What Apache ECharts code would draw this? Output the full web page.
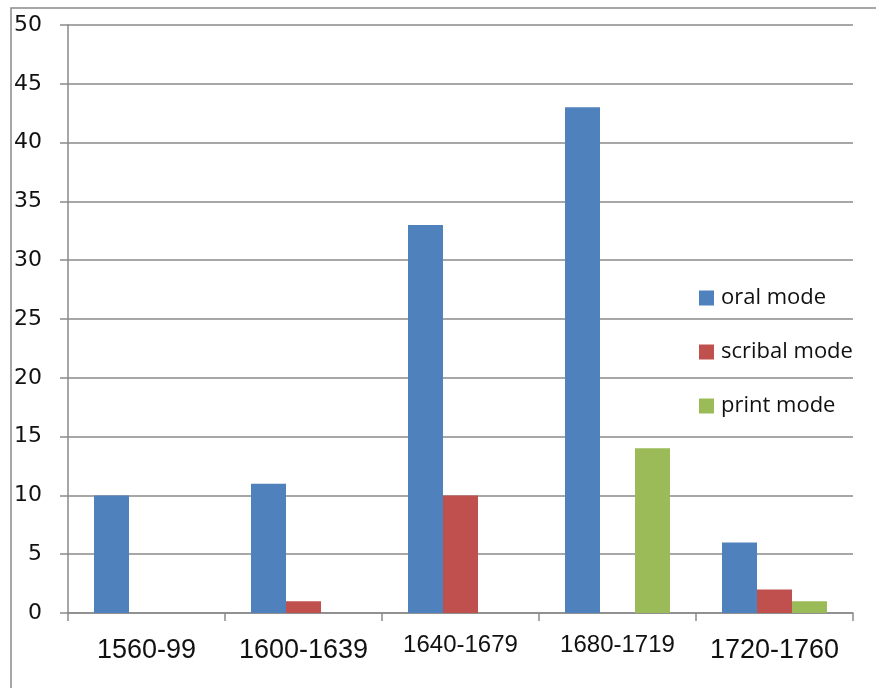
<!DOCTYPE html>
<html><head><meta charset="utf-8">
<script src="https://cdn.jsdelivr.net/npm/echarts@6/dist/echarts.min.js"></script>
<style>html,body{margin:0;padding:0;background:#fff}#c{width:876px;height:688px}</style>
</head><body><div id="c"></div>
<script>
const categories = ['1560-99', '1600-1639', '1640-1679', '1680-1719', '1720-1760'];
const labelSizes = ['big', 'big', 'small', 'small', 'big'];
const oralMode = [10, 11, 33, 43, 6];
const scribalMode = [0, 1, 10, 0, 2];
const printMode = [0, 0, 0, 14, 1];
const seriesNames = ['oral mode', 'scribal mode', 'print mode'];
const yTicks = { min: 0, max: 50, interval: 5 };

const chart = echarts.init(document.getElementById('c'));
const gray = '#8a8a8a';
chart.setOption({
  animation: false,
  backgroundColor: '#fff',
  graphic: [{
    type: 'rect', shape: { x: 11, y: 8, width: 900, height: 700 },
    style: { fill: 'none', stroke: gray, lineWidth: 1.5 }, silent: true
  }],
  grid: { left: 68, right: 23, top: 25, bottom: 75, containLabel: false },
  legend: {
    orient: 'vertical', left: 694, top: 282, itemWidth: 15, itemHeight: 15,
    itemGap: 32, icon: 'rect',
    textStyle: { fontFamily: 'Open Sans', fontSize: 22, color: '#111', padding: [0, 0, 0, 2] }
  },
  xAxis: {
    type: 'category', data: categories,
    axisLine: { lineStyle: { color: gray, width: 1.5 } },
    axisTick: { show: true, length: 8, alignWithLabel: false, lineStyle: { color: gray, width: 1.5 } },
    axisLabel: {
      margin: 20, interval: 0,
      formatter: (v, i) => '{' + labelSizes[i] + '|' + v + '}',
      rich: {
        big: { fontFamily: 'Liberation Sans', fontSize: 27, color: '#111', padding: [4, 0, 0, 0] },
        small: { fontFamily: 'Liberation Sans', fontSize: 24, color: '#111' }
      }
    }
  },
  yAxis: {
    type: 'value', min: yTicks.min, max: yTicks.max, interval: yTicks.interval,
    axisLine: { show: true, lineStyle: { color: gray, width: 1.5 } },
    axisTick: { show: true, length: 8, lineStyle: { color: gray, width: 1.5 } },
    splitLine: { lineStyle: { color: gray, width: 1.5 } },
    axisLabel: { margin: 26, fontFamily: 'DejaVu Sans', fontSize: 22, color: '#111' }
  },
  series: [
    { name: seriesNames[0], type: 'bar', data: oralMode, barWidth: 35, barGap: '0%', itemStyle: { color: '#4F81BD' } },
    { name: seriesNames[1], type: 'bar', data: scribalMode, barWidth: 35, barGap: '0%', itemStyle: { color: '#C0504D' } },
    { name: seriesNames[2], type: 'bar', data: printMode, barWidth: 35, barGap: '0%', itemStyle: { color: '#9BBB59' } }
  ]
});
</script></body></html>
